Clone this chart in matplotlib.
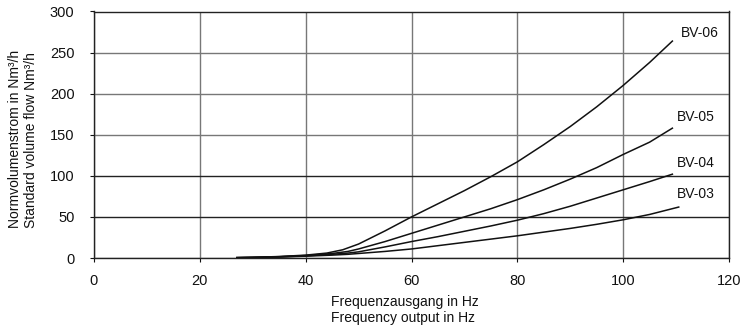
import matplotlib
matplotlib.use("Agg")
import matplotlib.pyplot as plt

plt.rcParams['font.family'] = ['Liberation Sans', 'DejaVu Sans']

# Data (frequency in Hz, flow in Nm³/h)
freq_bv06 = [27, 30, 35, 40, 44, 47, 50, 55, 60, 65, 70, 75, 80, 85, 90, 95, 100, 105, 109.3]
flow_bv06 = [0.5, 0.8, 1.8, 3.5, 6, 10, 17, 33, 50, 66, 82, 99, 117, 138, 160, 184, 210, 238, 264]

freq_bv05 = [27, 30, 35, 40, 45, 48, 50, 55, 60, 65, 70, 75, 80, 85, 90, 95, 100, 105, 109.3]
flow_bv05 = [0.5, 0.8, 1.6, 3, 5.5, 8, 11, 20, 30, 40, 50, 60, 71, 83, 96, 110, 126, 141, 158]

freq_bv04 = [27, 30, 35, 40, 45, 48, 50, 55, 60, 65, 70, 75, 80, 85, 90, 95, 100, 105, 109.3]
flow_bv04 = [0.4, 0.7, 1.4, 2.6, 4.5, 6, 7.5, 13.5, 20, 26, 32.5, 39, 46, 54, 63, 73, 83, 93, 102]

freq_bv03 = [27, 30, 35, 40, 45, 48, 50, 55, 60, 65, 70, 75, 80, 85, 90, 95, 100, 105, 110.5]
flow_bv03 = [0.3, 0.6, 1.2, 2.2, 3.5, 4.5, 5.5, 8, 11, 15, 19, 23, 27, 31.5, 36, 41, 46.5, 53, 62]

series_names = ["BV-06", "BV-05", "BV-04", "BV-03"]
label_x = [111, 110.2, 110.2, 110.2]
label_y = [274, 172, 115.5, 78]

x_ticks = [0, 20, 40, 60, 80, 100, 120]
y_ticks = [0, 50, 100, 150, 200, 250, 300]

W, H = 742, 326
fig = plt.figure(figsize=(W/100, H/100), dpi=100)
ax = fig.add_axes([94/W, 68/H, (729-94)/W, (258-11.5)/H])

series = [(freq_bv06, flow_bv06), (freq_bv05, flow_bv05),
          (freq_bv04, flow_bv04), (freq_bv03, flow_bv03)]
for (fx, fy) in series:
    ax.plot(fx, fy, color='#111111', lw=1.1, zorder=3)

for name, lx, ly in zip(series_names, label_x, label_y):
    ax.text(lx, ly, name, fontsize=10, ha='left', va='center', color='#111111')

ax.set_xlim(0, 120)
ax.set_ylim(0, 300)
ax.set_xticks(x_ticks)
ax.set_yticks(y_ticks)
ax.tick_params(axis='both', direction='out', length=3, width=0.8, labelsize=10.5,
               colors='#111111')
ax.tick_params(axis='x', pad=8.5)
ax.tick_params(axis='y', pad=11)

ax.grid(True, color='#777777', lw=1.0, zorder=1)
for val, gl in zip(y_ticks, ax.get_ygridlines()):
    if val in (50, 100):
        gl.set_color('#222222')
for sp in ax.spines.values():
    sp.set_color('#222222')
    sp.set_linewidth(1.0)

fig.text(404.5/W, 1 - 309.7/H, "Frequenzausgang in Hz\nFrequency output in Hz",
         fontsize=10, color='#111111', ha='center', va='center',
         multialignment='left', linespacing=1.2)
fig.text(23/W, 1 - 138.5/H, "Normvolumenstrom in Nm³/h\nStandard volume flow Nm³/h",
         fontsize=10, color='#111111', ha='center', va='center', rotation=90,
         multialignment='left', linespacing=1.2)

fig.savefig("out.png", dpi=100)
